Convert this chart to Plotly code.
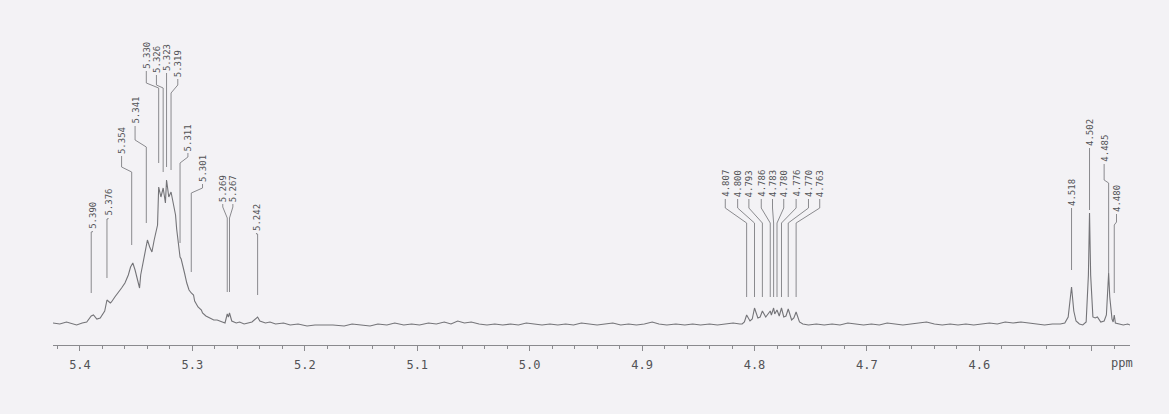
import plotly.graph_objects as go

# ---------------- data ----------------
# chemical shift (ppm) and signal height (arbitrary units, baseline = 0)
ppm = [
    5.424, 5.418, 5.412, 5.407, 5.403, 5.398, 5.394, 5.390, 5.388, 5.385,
    5.382, 5.378, 5.376, 5.373, 5.372, 5.369, 5.366, 5.363, 5.360, 5.357,
    5.355, 5.353, 5.351, 5.349, 5.347, 5.346, 5.343, 5.341, 5.340, 5.338,
    5.336, 5.334, 5.331, 5.330, 5.328, 5.326, 5.324, 5.323, 5.321, 5.319,
    5.317, 5.315, 5.314, 5.312, 5.311, 5.310, 5.309, 5.307, 5.305, 5.303,
    5.301, 5.299, 5.298, 5.295, 5.292, 5.291, 5.288, 5.284, 5.281, 5.278,
    5.274, 5.271, 5.269, 5.268, 5.267, 5.265, 5.261, 5.258, 5.254, 5.251,
    5.247, 5.242, 5.240, 5.235, 5.231, 5.226, 5.219, 5.213, 5.206, 5.198,
    5.191, 5.184,
    5.175, 5.165, 5.158, 5.150, 5.142, 5.135, 5.127, 5.120, 5.112, 5.105,
    5.098, 5.090, 5.083, 5.076, 5.070, 5.064, 5.058, 5.052, 5.045, 5.038,
    5.031, 5.024, 5.017, 5.010, 5.003, 4.996, 4.989, 4.982, 4.975, 4.968,
    4.961, 4.954, 4.947, 4.940, 4.933, 4.926, 4.919, 4.912, 4.905, 4.898,
    4.891, 4.885, 4.878, 4.870, 4.862, 4.855, 4.848, 4.840, 4.833, 4.826,
    4.819, 4.813,
    4.811, 4.809, 4.807, 4.804, 4.802, 4.800, 4.797, 4.795, 4.793, 4.790,
    4.788, 4.786, 4.785, 4.783, 4.782, 4.780, 4.778, 4.776, 4.774, 4.772,
    4.770, 4.767, 4.765, 4.763, 4.760, 4.757, 4.752, 4.745,
    4.738, 4.731, 4.724, 4.717, 4.710, 4.703, 4.696, 4.689, 4.682, 4.675,
    4.668, 4.661, 4.654, 4.647, 4.640, 4.633, 4.626, 4.619, 4.612, 4.605,
    4.598, 4.591, 4.584, 4.577, 4.570, 4.563, 4.556, 4.549, 4.542, 4.535,
    4.528, 4.524,
    4.521, 4.518, 4.516, 4.514, 4.511, 4.508, 4.505, 4.503, 4.502, 4.501,
    4.499, 4.497, 4.495, 4.492, 4.489, 4.487, 4.486, 4.485, 4.484, 4.482,
    4.481, 4.480, 4.479, 4.476, 4.472, 4.468, 4.466,
]
intensity = [
    2, 1, 3, 1, 0, 2, 3, 9, 10, 6,
    7, 14, 25, 22, 23, 28, 32, 37, 42, 50,
    58, 62, 55, 45, 37, 50, 68, 80, 85, 78,
    73, 85, 100, 138, 128, 137, 122, 145, 128, 133,
    120, 110, 96, 80, 68, 66, 62, 52, 42, 35,
    32, 30, 24, 18, 15, 12, 9, 7, 5, 5,
    3, 2, 11, 8, 12, 4, 2, 3, 1, 2,
    3, 8, 4, 2, 3, 1, 2, 0, 1, -1,
    0, 0,
    0, -1, 1, 0, -1, 1, 0, 2, 0, 1,
    0, 2, 1, 3, 1, 4, 2, 3, 1, 0,
    1, 0, 1, 0, 2, 1, 0, 1, 0, 1,
    0, 2, 1, 0, 1, 2, 0, 1, 0, 1,
    3, 1, 0, 1, 0, 1, 0, 1, 0, 1,
    2, 1,
    1, 3, 10, 4, 6, 17, 7, 8, 14, 8,
    11, 14, 10, 17, 11, 15, 9, 17, 8, 9,
    16, 5, 7, 13, 3, 1, 0, 1,
    0, 1, 0, 2, 1, 0, 1, 0, 2, 1,
    0, 1, 2, 3, 1, 0, 1, 0, 1, 0,
    1, 2, 1, 3, 2, 3, 2, 1, 0, 1,
    1, 2,
    8, 38, 14, 4, 1, 0, 3, 50, 112, 50,
    8, 7, 8, 3, 4, 10, 30, 52, 28, 6,
    3, 10, 2, 1, 0, 1, 0,
]

# printed peak labels
peak_labels = [
    "5.390", "5.376", "5.354", "5.341", "5.330", "5.326", "5.323", "5.319",
    "5.311", "5.301", "5.269", "5.267", "5.242",
    "4.807", "4.800", "4.793", "4.786", "4.783", "4.780", "4.776", "4.770", "4.763",
    "4.518", "4.502", "4.485", "4.480",
]
peak_ppm = [float(s) for s in peak_labels]

# axis ticks: labelled majors (the 4.5 position is left blank for "ppm")
tick_values = [5.4, 5.3, 5.2, 5.1, 5.0, 4.9, 4.8, 4.7, 4.6, 4.5]
tick_texts = ["5.4", "5.3", "5.2", "5.1", "5.0", "4.9", "4.8", "4.7", "4.6", ""]
minor_step = 0.02
unit_label = "ppm"

# ---------------- label placement (layout only) ----------------
label_x = [
    5.389, 5.375, 5.363, 5.351, 5.341, 5.332, 5.323, 5.313,
    5.304, 5.291, 5.273, 5.264, 5.243,
    4.826, 4.815, 4.805, 4.794, 4.784, 4.774, 4.763, 4.752, 4.742,
    4.518, 4.502, 4.489, 4.478,
]
label_bottom = [95, 108, 170, 200, 255, 251, 253, 247, 173, 142, 122, 122, 93,
                127, 127, 127, 127, 127, 127, 127, 127, 127,
                118, 178, 162, 112]
elbow_top = [93, 106, 158, 185, 242, 240, 245, 240, 168, 137, 118, 118, 91,
             117, 117, 117, 117, 117, 117, 117, 117, 117,
             116, 176, 145, 103]
elbow_low = [93, 106, 153, 178, 237, 237, 243, 232, 162, 132, 107, 107, 91,
             102, 102, 102, 102, 102, 102, 102, 102, 102,
             116, 176, 142, 100]
line_bottom = [32, 47, 80, 102, 162, 153, 158, 155, 82, 53, 33, 33, 30,
               28, 28, 28, 28, 28, 28, 28, 28, 28,
               55, 115, 52, 32]

LINE_COLOR = "#747478"
TEXT_COLOR = "#525256"
BG = "#f3f2f5"
MONO = "DejaVu Sans Mono"

fig = go.Figure()

fig.add_trace(go.Scatter(
    x=ppm, y=intensity, mode="lines",
    line=dict(color=LINE_COLOR, width=1.1),
    hoverinfo="skip", showlegend=False,
))

cx, cy = [], []
for i in range(len(peak_labels)):
    cx += [label_x[i], label_x[i], peak_ppm[i], peak_ppm[i], None]
    cy += [label_bottom[i] - 1, elbow_top[i], elbow_low[i], line_bottom[i], None]
fig.add_trace(go.Scatter(
    x=cx, y=cy, mode="lines",
    line=dict(color="#8a8a8e", width=1),
    hoverinfo="skip", showlegend=False,
))

for i, txt in enumerate(peak_labels):
    fig.add_annotation(
        x=label_x[i], y=label_bottom[i], xref="x", yref="y",
        text=txt, textangle=-90, showarrow=False,
        xanchor="center", yanchor="bottom", borderpad=0,
        font=dict(family=MONO, size=9, color=TEXT_COLOR),
    )

fig.add_annotation(
    x=4.473, y=-0.052, xref="x", yref="paper", text=unit_label,
    showarrow=False, xanchor="center", yanchor="middle",
    font=dict(family=MONO, size=12, color=TEXT_COLOR),
)

fig.update_layout(
    width=1169, height=414,
    margin=dict(l=53, r=39, t=0, b=69),
    paper_bgcolor=BG, plot_bgcolor=BG,
    xaxis=dict(
        range=[5.424, 4.466], showgrid=False, zeroline=False,
        showline=True, linecolor="#8a8a8e", linewidth=1,
        ticks="outside", ticklen=5, tickcolor="#8a8a8e",
        tickmode="array", tickvals=tick_values, ticktext=tick_texts,
        ticklabelstandoff=4,
        tickfont=dict(family=MONO, size=12, color=TEXT_COLOR),
        minor=dict(dtick=minor_step, tick0=5.0, ticks="outside",
                   ticklen=3, tickcolor="#8a8a8e", showgrid=False),
    ),
    yaxis=dict(range=[-20, 325], visible=False),
)

fig.write_html("out.html")
